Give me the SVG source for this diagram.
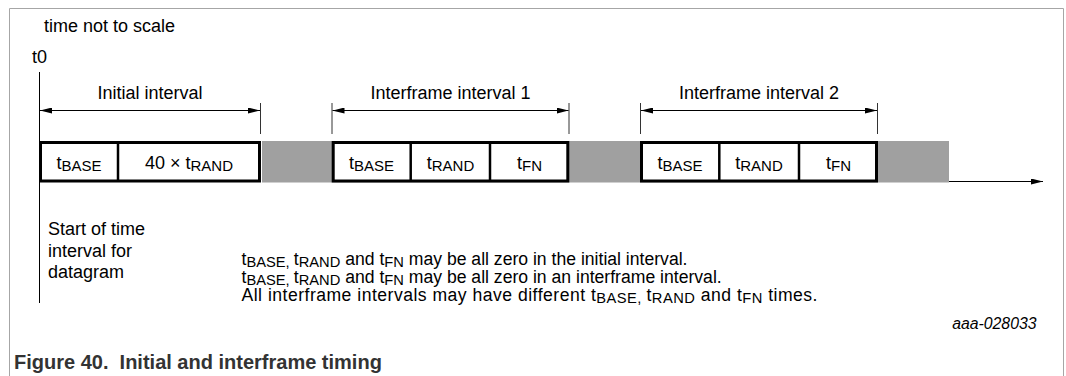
<svg xmlns="http://www.w3.org/2000/svg" width="1066" height="376" viewBox="0 0 1066 376">
<style>
text{font-family:"Liberation Sans",Arial,sans-serif;fill:#000}
.lbl{font-size:18px}
.note{font-size:17.6px}
.sub{font-size:15px}
.nsub{font-size:14.7px}
.box{fill:#fff;stroke:#000;stroke-width:3}
.div{stroke:#000;stroke-width:2.5}
.thin{stroke:#000;stroke-width:1;fill:none}
.tick{stroke:#333;stroke-width:1}
.cap{font-size:20px;font-weight:bold;fill:#333;white-space:pre}
.id{font-size:15.8px;font-style:italic}
</style>
<defs>
<marker id="ah" viewBox="0 0 12 6" refX="12" refY="3" markerWidth="12" markerHeight="6" markerUnits="userSpaceOnUse" orient="auto-start-reverse">
<path d="M0,0 L12,3 L0,6 z" fill="#000"/>
</marker>
</defs>
<path d="M9.5,376 V8.5 H1063.5 V376" fill="none" stroke="#a6a6a6" stroke-width="1"/>
<text class="lbl" x="44" y="32.3">time not to scale</text>
<text class="lbl" x="32" y="62.5">t0</text>
<rect x="262" y="141" width="687" height="41.5" fill="#a0a0a0"/>
<g id="connectors">
<line class="thin" x1="39.5" y1="72" x2="39.5" y2="303"/>
<line class="tick" x1="260.5" y1="103" x2="260.5" y2="134"/>
<line class="tick" x1="332" y1="103" x2="332" y2="134"/>
<line class="tick" x1="569" y1="103" x2="569" y2="134"/>
<line class="tick" x1="640.5" y1="103" x2="640.5" y2="134"/>
<line class="tick" x1="877.5" y1="103" x2="877.5" y2="134"/>
<line class="thin" x1="40" y1="110.5" x2="260" y2="110.5" marker-start="url(#ah)" marker-end="url(#ah)"/>
<line class="thin" x1="332.5" y1="110.5" x2="568.5" y2="110.5" marker-start="url(#ah)" marker-end="url(#ah)"/>
<line class="thin" x1="641" y1="110.5" x2="877" y2="110.5" marker-start="url(#ah)" marker-end="url(#ah)"/>
<line class="thin" x1="949" y1="181.5" x2="1043" y2="181.5" marker-end="url(#ah)"/>
</g>
<g id="initial-interval">
<text class="lbl" x="150" y="99" text-anchor="middle">Initial interval</text>
<rect class="box" x="40.5" y="142.5" width="219" height="38.5"/>
<line class="div" x1="118" y1="142.5" x2="118" y2="181"/>
<text class="lbl" x="79" y="169" text-anchor="middle">t<tspan class="sub" dy="2">BASE</tspan></text>
<text class="lbl" x="189" y="169" text-anchor="middle">40 × t<tspan class="sub" dy="2">RAND</tspan></text>
</g>
<g id="interframe-interval-1">
<text class="lbl" x="450.5" y="99" text-anchor="middle">Interframe interval 1</text>
<rect class="box" x="333.2" y="142.5" width="234.6" height="38.5"/>
<line class="div" x1="410.7" y1="142.5" x2="410.7" y2="181"/>
<line class="div" x1="490" y1="142.5" x2="490" y2="181"/>
<text class="lbl" x="371.5" y="169" text-anchor="middle">t<tspan class="sub" dy="2">BASE</tspan></text>
<text class="lbl" x="450.5" y="169" text-anchor="middle">t<tspan class="sub" dy="2">RAND</tspan></text>
<text class="lbl" x="529.5" y="169" text-anchor="middle">t<tspan class="sub" dy="2">FN</tspan></text>
</g>
<g id="interframe-interval-2">
<text class="lbl" x="759" y="99" text-anchor="middle">Interframe interval 2</text>
<rect class="box" x="641.5" y="142.5" width="235" height="38.5"/>
<line class="div" x1="719.3" y1="142.5" x2="719.3" y2="181"/>
<line class="div" x1="799" y1="142.5" x2="799" y2="181"/>
<text class="lbl" x="680" y="169" text-anchor="middle">t<tspan class="sub" dy="2">BASE</tspan></text>
<text class="lbl" x="759" y="169" text-anchor="middle">t<tspan class="sub" dy="2">RAND</tspan></text>
<text class="lbl" x="838.5" y="169" text-anchor="middle">t<tspan class="sub" dy="2">FN</tspan></text>
</g>
<g id="start-label">
<text class="lbl" x="48" y="235">Start of time</text>
<text class="lbl" x="48" y="256.7">interval for</text>
<text class="lbl" x="48" y="278">datagram</text>
</g>
<g id="notes">
<text class="note" x="241.5" y="265">t<tspan class="nsub" dy="2">BASE, </tspan><tspan dy="-2">t</tspan><tspan class="nsub" dy="2">RAND</tspan><tspan dy="-2"> and t</tspan><tspan class="nsub" dy="2">FN</tspan><tspan dy="-2"> may be all zero in the initial interval.</tspan></text>
<text class="note" x="241.5" y="283">t<tspan class="nsub" dy="2">BASE, </tspan><tspan dy="-2">t</tspan><tspan class="nsub" dy="2">RAND</tspan><tspan dy="-2"> and t</tspan><tspan class="nsub" dy="2">FN</tspan><tspan dy="-2"> may be all zero in an interframe interval.</tspan></text>
<text class="note" x="241.5" y="301" textLength="576" lengthAdjust="spacing">All interframe intervals may have different t<tspan class="nsub" dy="2">BASE, </tspan><tspan dy="-2">t</tspan><tspan class="nsub" dy="2">RAND</tspan><tspan dy="-2"> and t</tspan><tspan class="nsub" dy="2">FN</tspan><tspan dy="-2"> times.</tspan></text>
</g>
<text class="id" x="1036.5" y="329" text-anchor="end">aaa-028033</text>
<text class="cap" x="14" y="369" xml:space="preserve">Figure 40.  Initial and interframe timing</text>
</svg>
